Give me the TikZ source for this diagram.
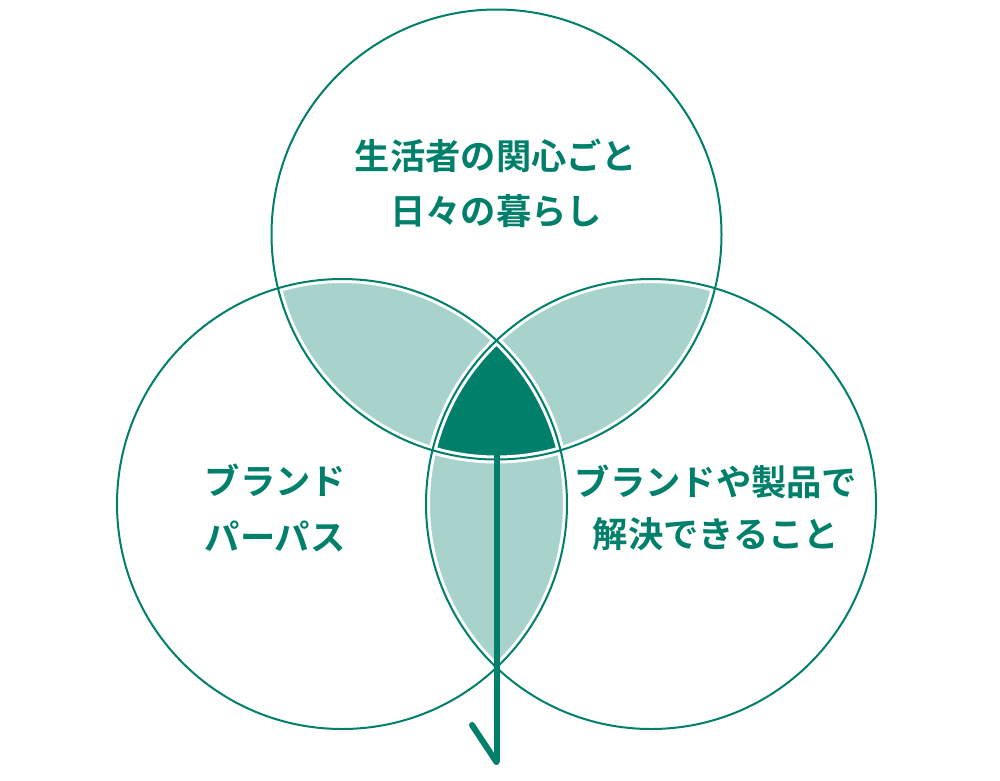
\documentclass[tikz,border=0pt]{standalone}
\usepackage{fontspec}
\newfontfamily\cjk{Noto Sans CJK JP}[BoldFont={Noto Sans CJK JP Bold}]
\definecolor{dg}{HTML}{00806B}
\definecolor{lg}{HTML}{A8D3CD}
\begin{document}
\begin{tikzpicture}[x=1pt,y=-1pt,
  lbl/.style={inner sep=0pt,text=dg,font=\cjk\bfseries\fontsize{35.3}{40}\selectfont},
  halo/.style={draw=white,line width=8pt},
  ring/.style={draw=dg,line width=2pt},
  stem/.style={draw=dg,line width=6pt,line cap=round,line join=round}]
\useasboundingbox (0,0) rectangle (1000,780);
\coordinate (T) at (496.5,234.5);
\coordinate (L) at (342,504);
\coordinate (R) at (651,504);
\def\rr{225}
% pairwise overlaps
\begin{scope}
  \clip (T) circle[radius=\rr];
  \fill[lg] (L) circle[radius=\rr];
  \fill[lg] (R) circle[radius=\rr];
\end{scope}
\begin{scope}
  \clip (L) circle[radius=\rr];
  \fill[lg] (R) circle[radius=\rr];
\end{scope}
% triple overlap
\begin{scope}
  \clip (T) circle[radius=\rr];
  \clip (L) circle[radius=\rr];
  \fill[dg] (R) circle[radius=\rr];
\end{scope}
% outlines
\path[halo] (T) circle[radius=\rr];
\path[halo] (L) circle[radius=\rr];
\path[halo] (R) circle[radius=\rr];
\path[ring] (T) circle[radius=\rr];
\path[ring] (L) circle[radius=\rr];
\path[ring] (R) circle[radius=\rr];
% stem with tick
\coordinate (s0) at (496.5,455);
\coordinate (s1) at (496.5,762);
\coordinate (s2) at (472,725);
\draw[stem,line cap=butt] (s0) -- (s1);
\draw[stem] (s2) -- (s1);
% labels
\node[lbl] (t1) at (496,156) {生活者の関心ごと};
\node[lbl] (t2) at (496,211) {日々の暮らし};
\node[lbl,anchor=west] (l1) at (204.5,480) {ブランド};
\node[lbl,anchor=west] (l2) at (204.5,536) {パーパス};
\node[lbl] (r1) at (716,482) {ブランドや製品で};
\node[lbl] (r2) at (716,534) {解決できること};
\end{tikzpicture}
\end{document}
